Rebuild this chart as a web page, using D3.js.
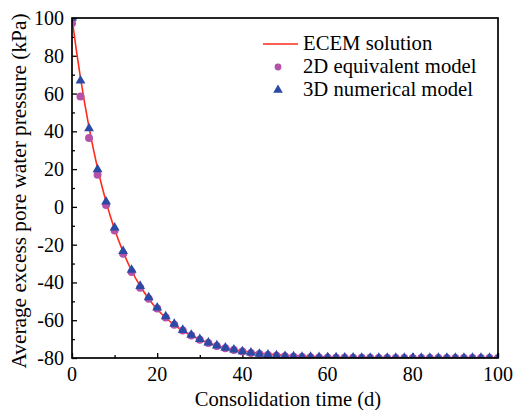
<!DOCTYPE html>
<html><head><meta charset="utf-8">
<script src="https://cdn.jsdelivr.net/npm/d3@7"></script>
</head>
<body style="margin:0;padding:0;background:#fff"><svg id="c" width="519" height="410"></svg>
<script>
// ---- data ----
const xTicks = [0, 20, 40, 60, 80, 100];
const yTicks = [-80, -60, -40, -20, 0, 20, 40, 60, 80, 100];
const seriesNames = ["ECEM solution", "2D equivalent model", "3D numerical model"];

const ecemTime = [0,1,2,3,4,5,6,7,8,9,10,12,14,16,18,20,22,24,26,28,30,32,34,36,38,40,45,50,55,60,70,80,90,100];
const ecemValue = [100,83.3,68.2,54.5,42.1,30.8,20.5,11.2,2.8,-4.9,-11.8,-23.8,-33.8,-41.9,-48.6,-54.2,-58.7,-62.5,-65.6,-68.1,-70.2,-71.9,-73.4,-74.5,-75.5,-76.3,-77.7,-78.6,-79.1,-79.5,-79.8,-79.9,-80,-80];

const modelTime = [0,2,4,6,8,10,12,14,16,18,20,22,24,26,28,30,32,34,36,38,40,42,44,46,48,50,52,54,56,58,60,62,64,66,68,70,72,74,76,78,80,82,84,86,88,90,92,94,96,98,100];
const model2D = [97.2,58.5,36.5,17,1,-12.5,-24.8,-34.5,-42.8,-48.6,-53.8,-58.5,-62.4,-65.5,-68.1,-70.3,-72.1,-73.6,-74.8,-75.8,-76.6,-77.3,-77.9,-78.4,-78.8,-79.1,-79.3,-79.5,-79.6,-79.7,-79.8,-79.8,-79.9,-79.9,-79.9,-79.9,-80,-80,-80,-80,-80,-80,-80,-80,-80,-80,-80,-80,-80,-80,-80];
const model3D = [100,66.8,41.5,19.8,2.8,-11,-23.5,-33.4,-41.9,-47.9,-53.3,-58,-62,-65.2,-67.8,-70,-71.9,-73.4,-74.6,-75.6,-76.5,-77.2,-77.8,-78.3,-78.7,-79,-79.2,-79.4,-79.5,-79.6,-79.7,-79.75,-79.8,-79.85,-79.9,-79.9,-79.9,-80,-80,-80,-80,-80,-80,-80,-80,-80,-80,-80,-80,-80,-80];

// ---- layout ----
const FONT = "Liberation Serif, Times New Roman, serif";
function serif(sel) { sel.attr("font-family", FONT); }
const svg = d3.select("#c");
const L = 72, R = 498, T = 18, B = 358;
const x = d3.scaleLinear().domain([0, 100]).range([L, R]);
const y = d3.scaleLinear().domain([-80, 100]).range([B, T]);
const red = "#ff2a1a", pink = "#b552a8", blue = "#2a4aa5";

// axes with inward ticks (major 20, minor 10)
const gx = svg.append("g").attr("transform", `translate(0,${B})`)
  .call(d3.axisBottom(x).tickValues(d3.range(0, 101, 10)).tickFormat(""));
gx.select(".domain").remove();
gx.selectAll(".tick line").attr("y2", d => d % 20 === 0 ? -5 : -3);
const gy = svg.append("g").attr("transform", `translate(${L},0)`)
  .call(d3.axisLeft(y).tickValues(d3.range(-80, 101, 10)).tickFormat(""));
gy.select(".domain").remove();
gy.selectAll(".tick line").attr("x2", d => d % 20 === 0 ? 5 : 3);
svg.selectAll(".tick line").attr("stroke", "#000").attr("stroke-width", 1.3);

// tick labels
svg.append("g").selectAll("text").data(xTicks).join("text")
  .attr("x", d => x(d)).attr("y", B + 23).attr("text-anchor", "middle")
  .attr("font-size", 20).text(d => d).call(serif);
svg.append("g").selectAll("text").data(yTicks).join("text")
  .attr("x", L - 8).attr("y", d => y(d) + 7).attr("text-anchor", "end")
  .attr("font-size", 20).text(d => d).call(serif);

// clip to plot area
svg.append("clipPath").attr("id", "clp").append("rect")
  .attr("x", L).attr("y", T).attr("width", R - L).attr("height", B - T);
const plot = svg.append("g").attr("clip-path", "url(#clp)");

// line
const ecem = ecemTime.map((t, i) => [t, ecemValue[i]]);
plot.append("path").datum(ecem)
  .attr("d", d3.line().x(d => x(d[0])).y(d => y(d[1])).curve(d3.curveMonotoneX))
  .attr("fill", "none").attr("stroke", red).attr("stroke-width", 1.6);

// circles
const circ = d3.symbol().type(d3.symbolCircle).size(50);
plot.selectAll(".c2").data(modelTime.map((t, i) => [t, model2D[i]])).join("path")
  .attr("d", circ).attr("transform", d => `translate(${x(d[0])},${y(d[1])})`)
  .attr("fill", pink);

// triangles
const tri = d3.symbol().type(d3.symbolTriangle).size(42);
plot.selectAll(".t3").data(modelTime.map((t, i) => [t, model3D[i]])).join("path")
  .attr("d", tri).attr("transform", d => `translate(${x(d[0])},${y(d[1])})`)
  .attr("fill", blue);

// frame
svg.append("rect").attr("x", L).attr("y", T).attr("width", R - L).attr("height", B - T)
  .attr("fill", "none").attr("stroke", "#000").attr("stroke-width", 1.7);

// legend
const lg = svg.append("g");
lg.append("line").attr("x1", 263).attr("x2", 298).attr("y1", 44).attr("y2", 44)
  .attr("stroke", red).attr("stroke-width", 1.6);
lg.append("path").attr("d", d3.symbol().type(d3.symbolCircle).size(36))
  .attr("transform", "translate(278,67)").attr("fill", pink);
lg.append("path").attr("d", d3.symbol().type(d3.symbolTriangle).size(40))
  .attr("transform", "translate(278,90)").attr("fill", blue);
lg.selectAll("text").data(seriesNames).join("text")
  .attr("x", 303).attr("y", (d, i) => 50 + i * 23)
  .attr("font-size", 20.7).text(d => d).call(serif);

// axis titles
svg.append("text").attr("x", 288).attr("y", 406).attr("text-anchor", "middle")
  .attr("font-size", 20.6).text("Consolidation time (d)").call(serif);
svg.append("text").attr("transform", "translate(26,191) rotate(-90)")
  .attr("text-anchor", "middle").attr("font-size", 21.3)
  .text("Average excess pore water pressure (kPa)").call(serif);
</script></body></html>
